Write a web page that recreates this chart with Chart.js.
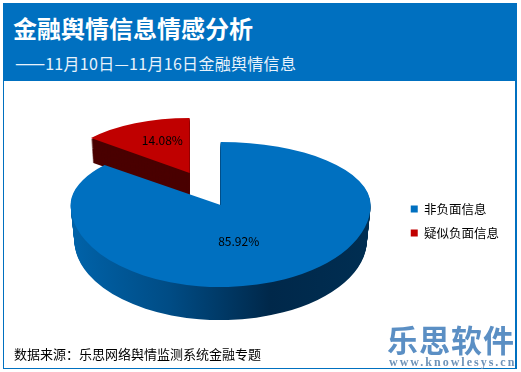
<!DOCTYPE html>
<html>
<head>
<meta charset="utf-8">
<script src="https://cdn.jsdelivr.net/npm/chart.js@4"></script>
<style>
  html, body { margin: 0; padding: 0; background: #fff; }
  #page { position: relative; width: 521px; height: 372px; overflow: hidden; font-family: "Noto Sans CJK SC", sans-serif; }
  #frame { position: absolute; left: 3px; top: 3px; width: 511px; height: 364px; border: 1px solid #0070c0; border-right-width: 2px; }
  #header { position: absolute; left: 3px; top: 3px; width: 514px; height: 78px; background: #0070c0; }
  #title { position: absolute; left: 13px; top: 13px; font-size: 24px; font-weight: bold; color: #fff; line-height: 30px; white-space: nowrap; }
  #subtitle { position: absolute; left: 15px; top: 52px; font-size: 16px; letter-spacing: 0.3px; color: #e8f2fb; line-height: 20px; white-space: nowrap; }
  #subtitle span { font-size: 18px; letter-spacing: 0; }
  #source { position: absolute; left: 14px; top: 346px; font-size: 13px; color: #000; line-height: 16px; white-space: nowrap; }
  #logo { position: absolute; left: 387px; top: 322px; font-size: 31px; font-weight: bold; color: #5b8fc4; line-height: 34px; letter-spacing: 1px; white-space: nowrap; }
  #url { position: absolute; left: 389px; top: 356px; font-family: "Liberation Serif", serif; font-size: 12px; font-weight: bold; color: #6f93b8; line-height: 13px; letter-spacing: 2px; white-space: nowrap; }
  #chartBox { position: absolute; left: 0; top: 0; width: 521px; height: 372px; }
</style>
</head>
<body>
<div id="page">
  <div id="frame"></div>
  <div id="chartBox"><canvas id="sentimentChart"></canvas></div>
  <div id="header"></div>
  <div id="title">金融舆情信息情感分析</div>
  <div id="subtitle"><span>——</span>11月10日—11月16日金融舆情信息</div>
  <div id="source">数据来源：乐思网络舆情监测系统金融专题</div>
  <div id="logo">乐思软件</div>
  <div id="url">www.knowlesys.cn</div>
</div>
<script>
const categories = ['非负面信息', '疑似负面信息']
const shares = [85.92, 14.08]
const valueLabels = ['85.92%', '14.08%']
const faceColors = ['#0070c0', '#c00000']

// fake 3D: back of the pie is squashed harder than the front
const xScale = [1, 0.85]
const yScaleBack = [0.42, 0.367]
const yScaleFront = [0.547, 0.3]
const sliceShift = [[0, -16], [-31, -48]]
const sliceDepth = [35, 24]
const wallTaper = 0.0007
const labelNudge = [[-14, -1], [0, -8]]

const pie3d = {
    id: 'pie3d',
    beforeDatasetsDraw(chart) {
        const ctx = chart.ctx
        const arcs = chart.getDatasetMeta(0).data
        const {width, height} = chart

        const blueWall = ctx.createLinearGradient(arcs[0].x - 148, 0, arcs[0].x + 152, 0)
        blueWall.addColorStop(0, '#0062a8')
        blueWall.addColorStop(0.32, '#004c85')
        blueWall.addColorStop(0.66, '#00284a')
        blueWall.addColorStop(1, '#002e52')
        const walls = [blueWall, '#4a0000']

        const drawSlice = (arc, i, fill, depth) => {
            const original = arc.options
            arc.options = Object.assign({}, original, {backgroundColor: fill})
            const ax = arc.x + sliceShift[i][0]
            const ay = Math.round(arc.y + sliceShift[i][1] + depth)
            const taper = 1 - depth * wallTaper
            for (const back of [true, false]) {
                ctx.save()
                ctx.beginPath()
                if (back) ctx.rect(0, 0, width, ay)
                else ctx.rect(0, ay, width, height - ay)
                ctx.clip()
                ctx.translate(ax, ay)
                ctx.scale(xScale[i] * taper, (back ? yScaleBack[i] : yScaleFront[i]) * taper)
                ctx.translate(-arc.x, -arc.y)
                arc.draw(ctx)
                ctx.restore()
            }
            arc.options = original
        }

        // back slice first so the big one covers it
        for (const i of [1, 0]) {
            for (let d = sliceDepth[i]; d > 0; d--) {
                drawSlice(arcs[i], i, walls[i], d)
            }
            drawSlice(arcs[i], i, faceColors[i], 0)
        }

        ctx.save()
        ctx.font = '12px "Noto Sans CJK SC", sans-serif'
        ctx.fillStyle = '#000'
        ctx.textAlign = 'center'
        ctx.textBaseline = 'middle'
        arcs.forEach((arc, i) => {
            const p = arc.getCenterPoint()
            const dy = p.y - arc.y
            const x = arc.x + sliceShift[i][0] + (p.x - arc.x) * xScale[i]
            const y = arc.y + sliceShift[i][1] + dy * (dy < 0 ? yScaleBack[i] : yScaleFront[i])
            ctx.fillText(valueLabels[i], x + labelNudge[i][0], y + labelNudge[i][1])
        })
        ctx.restore()
        return false
    }
}

new Chart(document.getElementById('sentimentChart'), {
    type: 'pie',
    plugins: [pie3d],
    data: {
        labels: categories,
        datasets: [{
            data: shares,
            backgroundColor: faceColors,
            borderWidth: 0
        }]
    },
    options: {
        responsive: true,
        maintainAspectRatio: false,
        animation: false,
        radius: 150,
        layout: {padding: {left: 42, right: 12, top: 70, bottom: 0}},
        plugins: {
            tooltip: {enabled: false},
            legend: {
                position: 'right',
                labels: {
                    boxWidth: 7,
                    boxHeight: 7,
                    padding: 11.5,
                    color: '#000',
                    font: {family: '"Noto Sans CJK SC", sans-serif', size: 12.5}
                }
            }
        }
    }
})
</script>
</body>
</html>
